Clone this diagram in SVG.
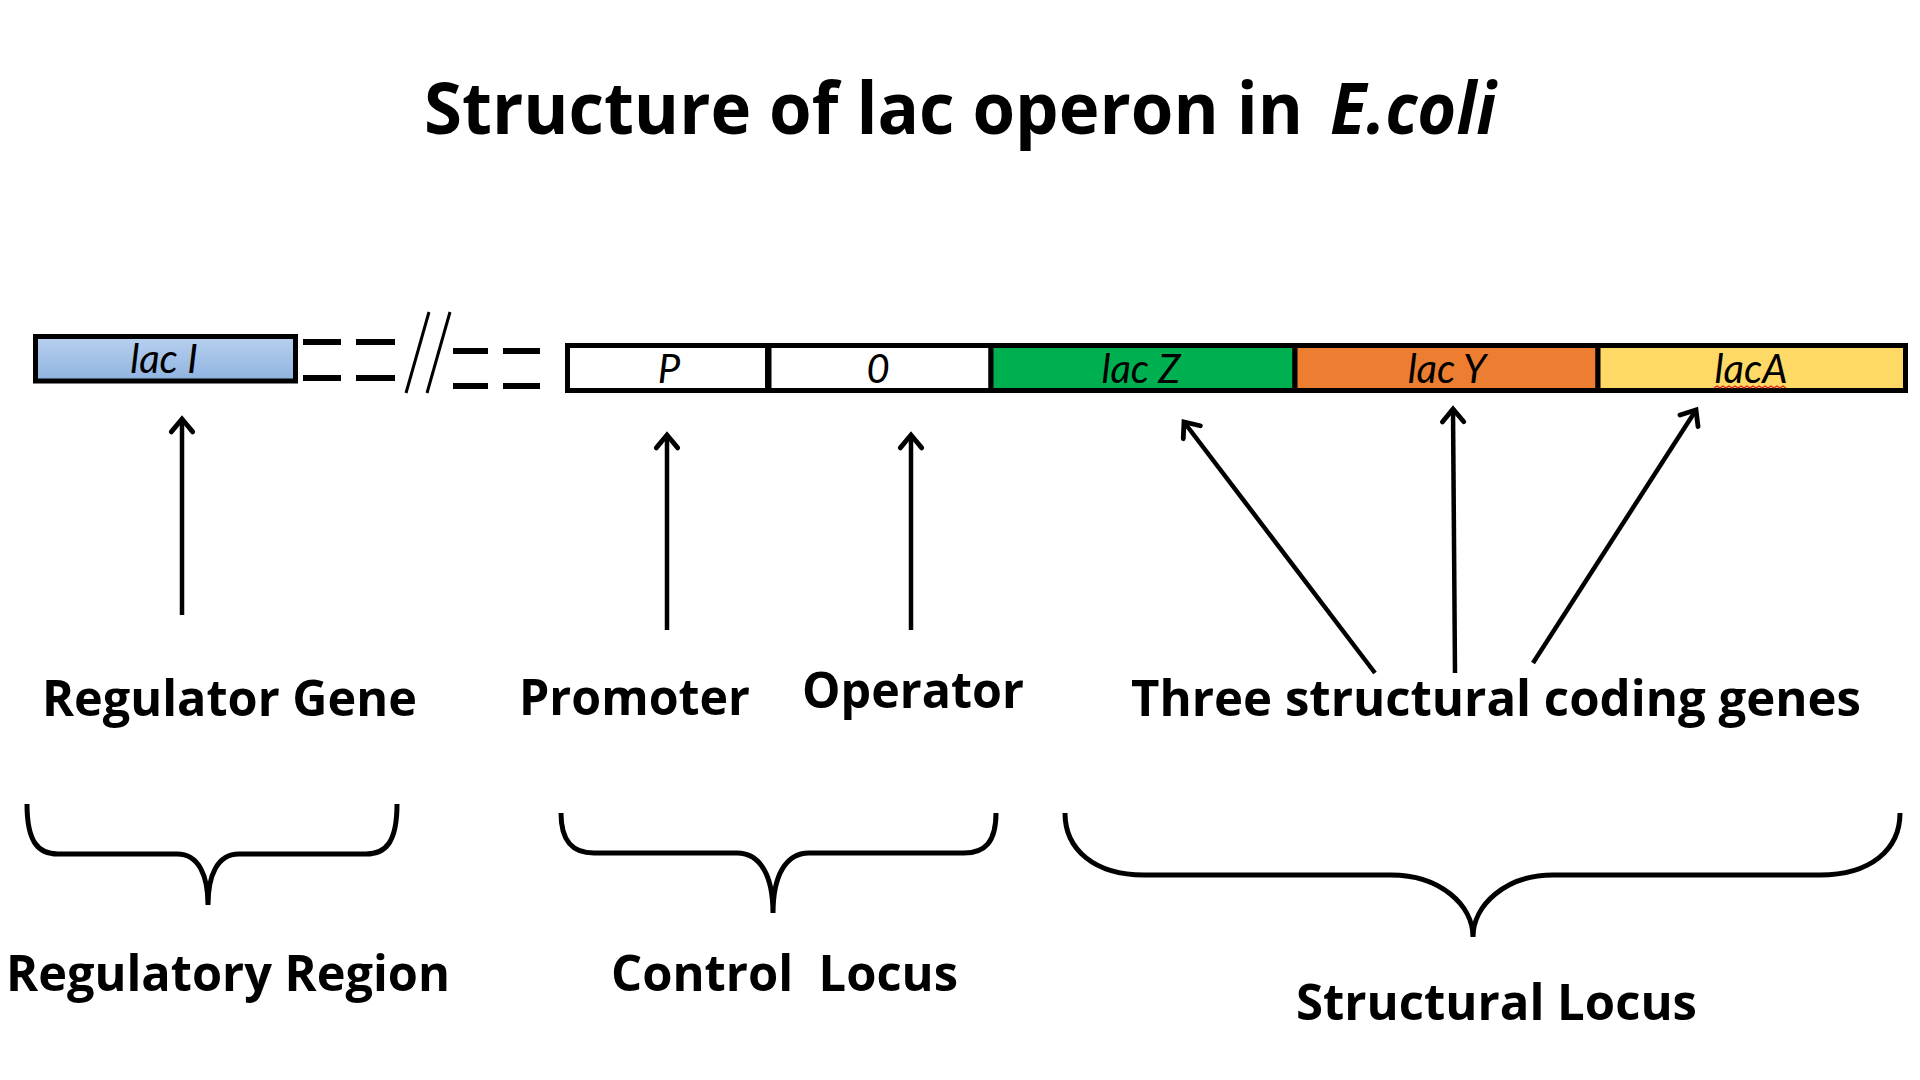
<svg xmlns="http://www.w3.org/2000/svg" width="1920" height="1080" viewBox="0 0 1920 1080">
<defs>
  <linearGradient id="blueGrad" x1="0" y1="0" x2="0" y2="1">
    <stop offset="0" stop-color="#b8d0ee"/>
    <stop offset="1" stop-color="#8fb3e0"/>
  </linearGradient>
  <marker id="head" markerUnits="userSpaceOnUse" markerWidth="30" markerHeight="30" refX="0" refY="0" viewBox="-16 -14 20 28" orient="auto" overflow="visible">
    <path d="M-12,-10 L0,0 L-12,10" fill="none" stroke="#000" stroke-width="4.5" stroke-linecap="round" stroke-linejoin="miter"/>
  </marker>
  <style>
    .title{font-family:"Open Sans","DejaVu Sans",sans-serif;font-weight:700;font-size:72px;fill:#000}
    .lbl{font-family:"Open Sans","DejaVu Sans",sans-serif;font-weight:700;font-size:51px;fill:#000}
    .gene{font-family:Lato,"Open Sans",sans-serif;font-style:italic;font-size:40px;fill:#000;text-anchor:middle}
    .box{stroke:#000;stroke-width:5}
    .arrow{fill:none;stroke:#000;stroke-width:4.5;marker-end:url(#head)}
    .brace{fill:none;stroke:#000;stroke-width:5}
    .dash{stroke:#000;stroke-width:6}
    .slash{stroke:#000;stroke-width:3}
  </style>
</defs>
<rect width="1920" height="1080" fill="#fff"/>

<g id="title">
  <text class="title" x="424" y="134" textLength="879" lengthAdjust="spacingAndGlyphs">Structure of lac operon in</text>
  <text class="title" x="1330" y="134" font-style="italic" textLength="166" lengthAdjust="spacingAndGlyphs">E.coli</text>
</g>

<g id="lacI">
  <rect class="box" x="35.5" y="336.5" width="260" height="44.5" fill="url(#blueGrad)" stroke-width="4.5"/>
  <text class="gene" x="164" y="373">lac I</text>
</g>

<g id="break">
  <line class="dash" x1="303" y1="342" x2="341" y2="342"/>
  <line class="dash" x1="356" y1="342" x2="395" y2="342"/>
  <line class="dash" x1="303" y1="378" x2="341" y2="378"/>
  <line class="dash" x1="356" y1="378" x2="395" y2="378"/>
  <line class="slash" x1="406" y1="393" x2="429" y2="312"/>
  <line class="slash" x1="427" y1="393" x2="450" y2="312"/>
  <line class="dash" x1="453" y1="351" x2="488" y2="351"/>
  <line class="dash" x1="503" y1="351" x2="540" y2="351"/>
  <line class="dash" x1="453" y1="386" x2="488" y2="386"/>
  <line class="dash" x1="503" y1="386" x2="540" y2="386"/>
</g>

<g id="promoter">
  <rect class="box" x="567.5" y="345.5" width="200" height="45" fill="#fff"/>
  <text class="gene" x="669" y="383">P</text>
</g>
<g id="operator">
  <rect class="box" x="769" y="345.5" width="222" height="45" fill="#fff"/>
  <text class="gene" x="878" y="383">0</text>
</g>
<g id="lacZ">
  <rect class="box" x="991" y="345.5" width="304" height="45" fill="#00b050" stroke-width="4"/>
  <text class="gene" x="1141" y="383">lac Z</text>
</g>
<g id="lacY">
  <rect class="box" x="1295" y="345.5" width="303" height="45" fill="#ed7d31" stroke-width="4"/>
  <text class="gene" x="1447" y="383">lac Y</text>
</g>
<g id="lacA">
  <rect class="box" x="1598" y="345.5" width="307.5" height="45" fill="#ffd966" stroke-width="4"/>
  <text class="gene" x="1751" y="383">lacA</text>
  <path d="M1714,388 l3,-2 l3,2 l3,-2 l3,2 l3,-2 l3,2 l3,-2 l3,2 l3,-2 l3,2 l3,-2 l3,2 l3,-2 l3,2 l3,-2 l3,2 l3,-2 l3,2 l3,-2 l3,2 l3,-2 l3,2 l3,-2 l3,2" fill="none" stroke="#e02020" stroke-width="1.2"/>
</g>

<g id="connectors">
  <line class="arrow" x1="182" y1="615" x2="182" y2="419"/>
  <line class="arrow" x1="667" y1="630" x2="667" y2="435"/>
  <line class="arrow" x1="911" y1="630" x2="911" y2="435"/>
  <line class="arrow" x1="1375" y1="673" x2="1184" y2="422"/>
  <line class="arrow" x1="1455" y1="673" x2="1453" y2="409"/>
  <line class="arrow" x1="1533" y1="663" x2="1696" y2="410"/>
</g>

<g id="labels">
  <text class="lbl" x="42" y="716" textLength="375" lengthAdjust="spacingAndGlyphs">Regulator Gene</text>
  <text class="lbl" x="519" y="715" textLength="231" lengthAdjust="spacingAndGlyphs">Promoter</text>
  <text class="lbl" x="802" y="708" textLength="222" lengthAdjust="spacingAndGlyphs">Operator</text>
  <text class="lbl" x="1131" y="716" textLength="730" lengthAdjust="spacingAndGlyphs">Three structural coding genes</text>
</g>

<g id="braces">
  <path class="brace" d="M27,804 C27,842 38,854 58,854 L177,854 C199,854 208,876 208,905 C208,876 217,854 239,854 L366,854 C386,854 397,842 397,804"/>
  <path class="brace" d="M561,813 C561,842 573,853 594,853 L737,853 C761,853 773,877 773,913 C773,877 785,853 809,853 L964,853 C985,853 996,842 996,813"/>
  <path class="brace" stroke-width="3" d="M1065,813 C1065,850 1095,875 1144,875 L1391,875 C1440,875 1473,905 1473,937 C1473,905 1506,875 1553,875 L1820,875 C1870,875 1900,850 1900,813"/>
</g>

<g id="regions">
  <text class="lbl" x="6" y="991" textLength="444" lengthAdjust="spacingAndGlyphs">Regulatory Region</text>
  <text class="lbl" x="611" y="991" xml:space="preserve" textLength="347" lengthAdjust="spacingAndGlyphs">Control  Locus</text>
  <text class="lbl" x="1296" y="1020" textLength="401" lengthAdjust="spacingAndGlyphs">Structural Locus</text>
</g>
</svg>
